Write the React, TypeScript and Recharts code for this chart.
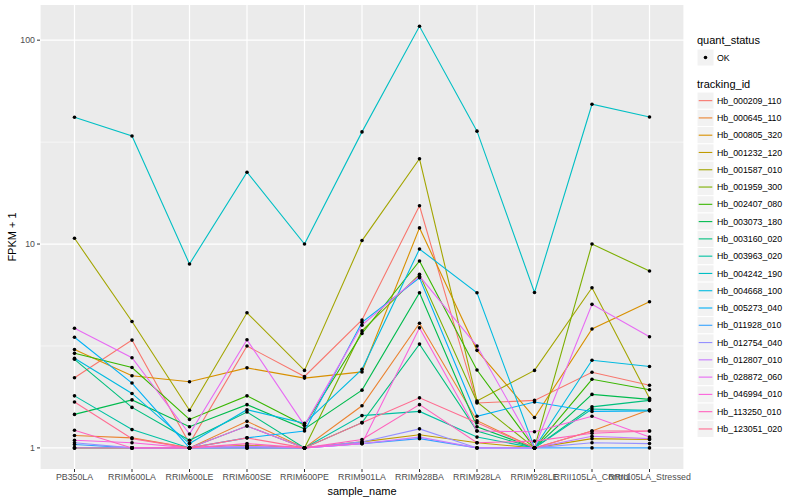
import React from 'react';
import { LineChart, Line, XAxis, YAxis, CartesianGrid } from 'recharts';

const categories = [
  'PB350LA', 'RRIM600LA', 'RRIM600LE', 'RRIM600SE', 'RRIM600PE', 'RRIM901LA',
  'RRIM928BA', 'RRIM928LA', 'RRIM928LE', 'RRII105LA_Control', 'RRII105LA_Stressed',
];

const trackingIds = [
  'Hb_000209_110', 'Hb_000645_110', 'Hb_000805_320', 'Hb_001232_120', 'Hb_001587_010',
  'Hb_001959_300', 'Hb_002407_080', 'Hb_003073_180', 'Hb_003160_020', 'Hb_003963_020',
  'Hb_004242_190', 'Hb_004668_100', 'Hb_005273_040', 'Hb_011928_010', 'Hb_012754_040',
  'Hb_012807_010', 'Hb_028872_060', 'Hb_046994_010', 'Hb_113250_010', 'Hb_123051_020',
];

const seriesColors = [
  '#F8766D', '#EA8331', '#D89000', '#C09B00', '#A3A500',
  '#7CAE00', '#39B600', '#00BB4E', '#00BF7D', '#00C1A3',
  '#00BFC4', '#00BAE0', '#00B0F6', '#35A2FF', '#9590FF',
  '#C77CFF', '#E76BF3', '#FA62DB', '#FF62BC', '#FF6C91',
];

const hb000209_110 = [2.21, 3.38, 1.05, 3.16, 2.24, 4.24, 15.4, 1.66, 1.71, 2.35, 2.03];
const hb000645_110 = [1.15, 1.12, 1.0, 1.35, 1.0, 1.61, 4.09, 1.36, 1.0, 1.21, 1.54];
const hb000805_320 = [3.04, 2.26, 2.11, 2.47, 2.2, 2.36, 12.0, 3.01, 1.41, 3.83, 5.21];
const hb001232_120 = [1.0, 1.0, 1.0, 1.03, 1.0, 1.07, 1.16, 1.06, 1.0, 1.11, 1.1];
const hb001587_010 = [10.67, 4.17, 1.53, 4.6, 2.4, 10.4, 26.2, 1.7, 2.4, 6.1, 1.75];
const hb001959_300 = [1.0, 1.0, 1.0, 1.0, 1.0, 3.75, 7.1, 1.68, 1.0, 10.0, 7.37];
const hb002407_080 = [2.91, 2.48, 1.38, 1.8, 1.29, 3.64, 8.26, 2.41, 1.0, 2.17, 1.93];
const hb003073_180 = [1.46, 1.72, 1.27, 1.63, 1.24, 1.92, 5.77, 1.27, 1.0, 1.83, 1.73];
const hb003160_020 = [2.72, 1.58, 1.09, 1.5, 1.0, 1.33, 3.23, 1.21, 1.0, 1.59, 1.71];
const hb003963_020 = [1.8, 1.23, 1.0, 1.28, 1.0, 1.44, 1.51, 1.13, 1.0, 1.55, 1.53];
const hb004242_190 = [41.9, 33.9, 7.98, 22.5, 10.0, 35.5, 117, 35.8, 5.79, 48.5, 42.0];
const hb004668_100 = [2.75, 1.85, 1.05, 1.54, 1.32, 2.43, 9.45, 5.77, 1.0, 2.69, 2.51];
const hb005273_040 = [3.49, 2.08, 1.0, 1.12, 1.21, 4.13, 6.83, 1.43, 1.68, 1.51, 1.52];
const hb011928_010 = [1.04, 1.0, 1.0, 1.0, 1.0, 1.05, 1.11, 1.0, 1.0, 1.0, 1.0];
const hb012754_040 = [1.06, 1.0, 1.0, 1.0, 1.0, 1.07, 1.24, 1.0, 1.0, 1.06, 1.05];
const hb012807_010 = [1.0, 1.0, 1.0, 1.02, 1.0, 1.05, 1.13, 1.0, 1.0, 1.14, 1.11];
const hb028872_060 = [3.86, 2.77, 1.17, 3.39, 1.29, 4.0, 6.96, 3.16, 1.0, 5.06, 3.51];
const hb046994_010 = [1.09, 1.06, 1.0, 1.28, 1.0, 1.05, 3.88, 1.21, 1.2, 1.43, 1.13];
const hb113250_010 = [1.22, 1.0, 1.0, 1.05, 1.0, 1.1, 1.63, 1.06, 1.08, 1.18, 1.21];
const hb123051_020 = [1.68, 1.11, 1.0, 1.12, 1.0, 1.33, 1.76, 1.33, 1.0, 1.21, 1.21];

const seriesValues = [
  hb000209_110, hb000645_110, hb000805_320, hb001232_120, hb001587_010,
  hb001959_300, hb002407_080, hb003073_180, hb003160_020, hb003963_020,
  hb004242_190, hb004668_100, hb005273_040, hb011928_010, hb012754_040,
  hb012807_010, hb028872_060, hb046994_010, hb113250_010, hb123051_020,
];

const yTicks = [1, 10, 100];
const yMinor = [Math.sqrt(10), Math.pow(10, 1.5)];

const data = categories.map((c, i) => {
  const row: Record<string, any> = { name: c };
  trackingIds.forEach((id, k) => {
    row[id] = seriesValues[k][i];
  });
  return row;
});

const FONT = '"Liberation Sans", Arial, Helvetica, sans-serif';

export default function App() {
  return (
    <div style={{ position: 'absolute', left: 0, top: 0, width: 800, height: 500, background: '#fff', fontFamily: FONT }}>
      <LineChart width={800} height={500} data={data} margin={{ top: 5, right: 116, left: 0, bottom: 0 }}>
        <CartesianGrid fill="#EBEBEB" stroke="#FFFFFF" strokeWidth={0.6} horizontalValues={yMinor} vertical={false} />
        <CartesianGrid stroke="#FFFFFF" strokeWidth={1.2} horizontalValues={yTicks} />
        <XAxis
          dataKey="name"
          type="category"
          interval={0}
          padding={{ left: 34.5, right: 34.5 }}
          height={31}
          axisLine={false}
          tickSize={3}
          tickLine={{ stroke: '#333333' }}
          tick={{ fontSize: 8.8, fill: '#4D4D4D', fontFamily: FONT }}
        />
        <YAxis
          scale="log"
          type="number"
          domain={[0.788, 148.8]}
          allowDataOverflow
          ticks={yTicks}
          width={40}
          axisLine={false}
          tickSize={3}
          tickLine={{ stroke: '#333333' }}
          tick={{ fontSize: 8.8, fill: '#4D4D4D', fontFamily: FONT }}
        />
        {trackingIds.map((id, k) => (
          <Line
            key={id}
            dataKey={id}
            stroke={seriesColors[k]}
            strokeWidth={1.1}
            dot={false}
            activeDot={false}
            isAnimationActive={false}
            type="linear"
          />
        ))}
        {trackingIds.map((id) => (
          <Line
            key={id + '_pt'}
            dataKey={id}
            stroke="none"
            dot={{ r: 1.8, fill: '#000000', stroke: 'none' }}
            activeDot={false}
            isAnimationActive={false}
            legendType="none"
          />
        ))}
      </LineChart>
      <svg width={800} height={500} style={{ position: 'absolute', left: 0, top: 0, pointerEvents: 'none' }}>
        <text x={362} y={495} textAnchor="middle" fontSize={11} fill="#000" fontFamily={FONT}>sample_name</text>
        <text x={16} y={237} textAnchor="middle" fontSize={11} fill="#000" fontFamily={FONT} transform="rotate(-90 16 237)">FPKM + 1</text>
        <text x={697} y={44} fontSize={11} fill="#000" fontFamily={FONT}>quant_status</text>
        <rect x={697} y={49} width={17} height={17} fill="#F2F2F2" stroke="#FFFFFF" />
        <circle cx={705.5} cy={57.5} r={1.8} fill="#000" />
        <text x={717} y={60.6} fontSize={8.8} fill="#000" fontFamily={FONT}>OK</text>
        <text x={697} y={88} fontSize={11} fill="#000" fontFamily={FONT}>tracking_id</text>
        {trackingIds.map((id, k) => {
          const y0 = 92 + k * 17.28;
          return (
            <g key={id}>
              <rect x={697} y={y0} width={17} height={17.28} fill="#F2F2F2" stroke="#FFFFFF" />
              <line x1={698.7} x2={712.3} y1={y0 + 8.64} y2={y0 + 8.64} stroke={seriesColors[k]} strokeWidth={1.1} />
              <text x={717} y={y0 + 11.7} fontSize={8.8} fill="#000" fontFamily={FONT}>{id}</text>
            </g>
          );
        })}
      </svg>
    </div>
  );
}
